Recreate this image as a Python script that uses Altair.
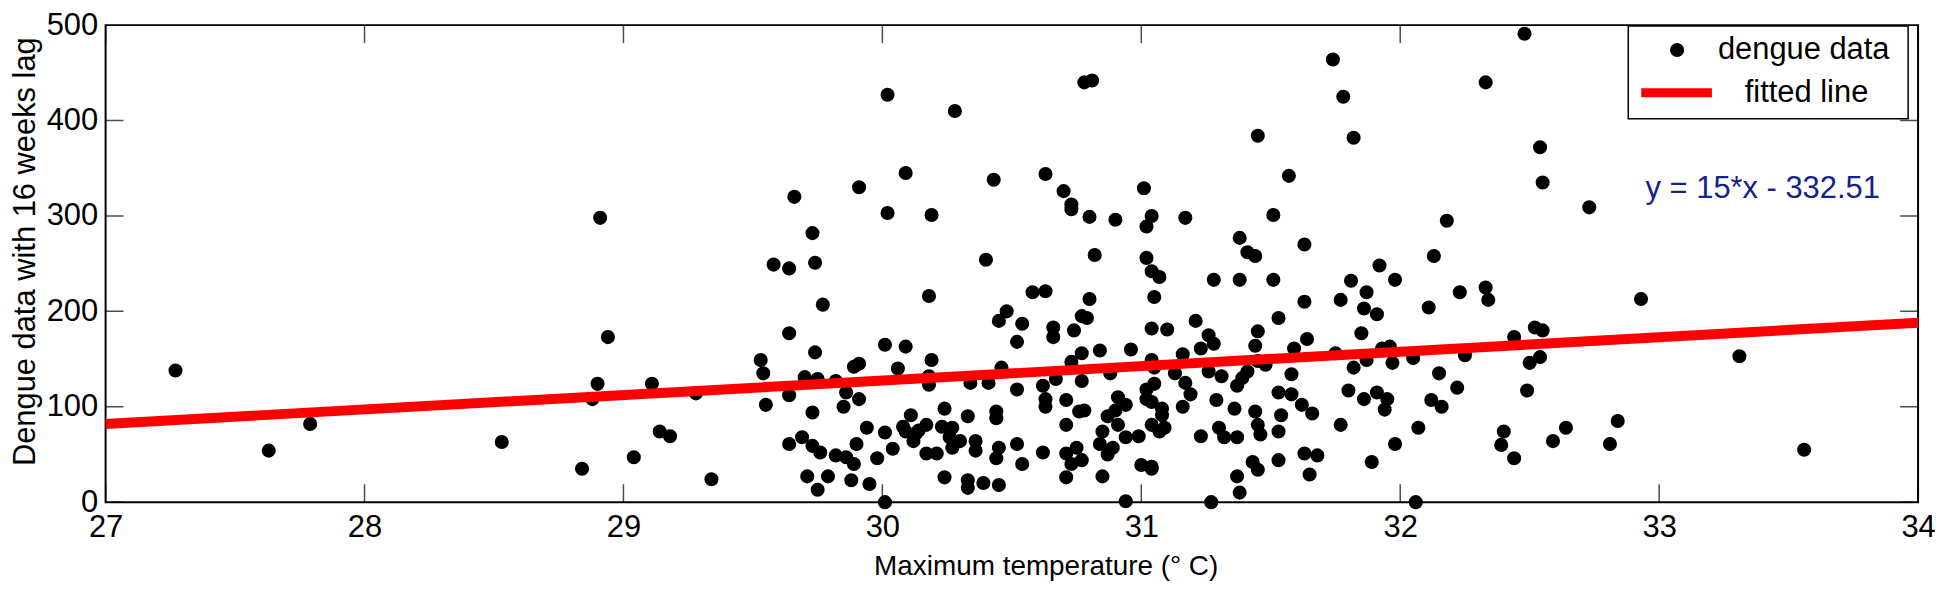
import altair as alt
import pandas as pd

# ---- data ----
temp = [
    27.27, 27.63, 27.79, 28.53, 28.84, 28.91, 28.94, 28.90, 28.88, 29.04, 29.11, 29.14, 29.18, 29.28, 29.34,
    29.53, 30.02, 30.28, 30.09, 29.91, 29.66, 30.02, 30.19, 29.73, 29.58, 29.64, 29.74, 30.18, 29.77, 29.64,
    29.74, 29.54, 30.01, 30.09, 30.19, 29.91, 29.89, 30.06, 30.18, 29.70, 29.75, 29.82, 30.18, 29.64, 29.86,
    29.91, 29.55, 29.85, 29.73, 30.24, 30.11, 29.94, 30.01, 30.09, 30.17, 30.23, 29.64, 29.69, 29.73, 29.76,
    29.82, 29.86, 29.89, 29.90, 30.04, 29.98, 30.12, 30.13, 30.17, 30.21, 30.27, 29.71, 29.75, 29.79, 29.88,
    29.95, 30.01, 30.24, 30.08, 30.14,
    30.78, 30.81, 30.43, 30.63, 30.70, 30.73, 30.73, 30.80, 30.90, 31.01, 31.04, 31.02, 30.40, 30.82, 31.02,
    31.04, 31.07, 30.58, 30.63, 30.80, 31.05, 30.48, 30.45, 30.54, 30.52, 30.66, 30.66, 30.77, 30.79, 30.74,
    31.04, 30.84, 30.96, 30.77, 30.73, 31.04, 30.46, 30.34, 30.41, 30.52, 30.62, 30.67, 30.63, 30.77, 30.88,
    30.91, 31.02, 31.04, 30.71, 30.63, 30.76, 30.78, 30.33, 30.44, 30.44, 30.90, 30.94, 30.87, 31.02, 31.08,
    30.27, 30.30, 30.36, 30.36, 30.45, 30.44, 30.52, 30.54, 30.62, 30.71, 30.71, 30.75, 30.73, 30.77, 30.71,
    30.85, 30.84, 30.89, 30.87, 30.94, 30.99, 30.91, 30.85, 31.00, 31.04, 31.07, 30.33, 30.33, 30.39, 30.45,
    30.94, 30.26,
    31.74, 31.78, 31.45, 31.82, 31.57, 31.17, 31.51, 31.38, 31.41, 31.44, 31.63, 31.28, 31.38, 31.51, 31.81,
    31.87, 31.92, 31.63, 31.77, 31.86, 31.21, 31.10, 31.53, 31.45, 31.26, 31.28, 31.23, 31.44, 31.64, 31.59,
    31.16, 31.85, 31.75, 31.45, 31.05, 31.48, 31.87, 31.26, 31.31, 31.39, 31.41, 31.13, 31.58, 31.82, 31.37,
    31.17, 31.05, 31.19, 31.53, 31.58, 31.80, 31.86, 31.29, 31.16, 31.36, 31.62, 31.66, 31.44, 31.54, 31.08,
    31.09, 31.04, 31.23, 31.30, 31.32, 31.37, 31.45, 31.46, 31.53, 31.77, 31.63, 31.68, 31.53, 31.43, 31.45,
    31.37, 31.65, 31.38, 31.27, 31.04, 31.89,
    32.48, 32.33, 32.54, 32.55, 32.73, 32.18, 32.13, 31.98, 32.23, 32.33, 32.34, 32.11, 31.91, 32.52, 32.55,
    32.44, 31.96, 31.93, 32.05, 32.25, 31.97, 32.54, 32.50, 32.15, 32.22, 32.49, 31.91, 31.95, 32.12, 32.16,
    31.94, 32.07, 32.40, 32.39, 32.44, 32.64, 32.59, 31.98, 32.06,
    32.93, 33.31, 32.84, 32.81, 33.56,
]
cases = [
    138, 54, 82, 63, 35, 298, 173, 124, 108, 47, 124, 74, 69, 114, 24,
    149, 427, 410, 345, 330, 320, 303, 301, 282, 249, 245, 251, 216, 207, 177,
    157, 135, 165, 163, 149, 145, 142, 140, 132, 131, 129, 127, 123, 112, 115,
    108, 102, 100, 94, 98, 91, 78, 73, 74, 81, 79, 61, 68, 59, 52,
    49, 47, 40, 61, 56, 46, 64, 72, 51, 51, 57, 27, 13, 27, 23,
    19, 0, 26, 79, 75,
    440, 442, 338, 344, 326, 312, 307, 299, 296, 329, 300, 289, 254, 259, 256,
    242, 236, 220, 221, 213, 215, 200, 190, 187, 168, 183, 173, 195, 193, 180,
    182, 159, 160, 156, 147, 149, 141, 125, 125, 118, 122, 129, 108, 127, 135,
    110, 118, 105, 107, 100, 95, 96, 90, 95, 88, 96, 102, 90, 108, 98,
    78, 64, 64, 54, 57, 46, 61, 40, 52, 81, 51, 57, 40, 44, 26,
    74, 61, 57, 50, 68, 69, 81, 27, 39, 37, 74, 23, 15, 20, 18,
    1, 68,
    464, 425, 384, 382, 342, 298, 301, 277, 262, 258, 270, 233, 233, 233, 232,
    220, 248, 210, 212, 203, 190, 181, 193, 179, 175, 166, 161, 164, 171, 161,
    155, 177, 156, 148, 141, 144, 149, 137, 132, 130, 137, 135, 134, 141, 122,
    125, 124, 113, 115, 113, 117, 108, 107, 100, 98, 102, 93, 95, 91, 91,
    78, 81, 69, 78, 68, 68, 81, 71, 74, 81, 51, 49, 44, 42, 34,
    27, 29, 10, 0, 35, 42,
    491, 440, 372, 335, 309, 295, 258, 233, 220, 225, 212, 204, 197, 183, 180,
    173, 163, 161, 151, 154, 146, 152, 146, 135, 120, 117, 115, 108, 107, 100,
    97, 78, 74, 60, 46, 78, 64, 61, 0,
    213, 153, 85, 61, 55,
]

fit_x = [27, 34]
fit_y = [82, 188]

x_ticks = [27, 28, 29, 30, 31, 32, 33, 34]
y_ticks = [0, 100, 200, 300, 400, 500]

equation = "y = 15*x - 332.51"
legend_labels = ["dengue data", "fitted line"]

FONT = "Liberation Sans"

pts = pd.DataFrame({"temp": temp, "cases": cases})
fit = pd.DataFrame({"temp": fit_x, "cases": fit_y})

xscale = alt.Scale(domain=[27, 34], nice=False, zero=False)
yscale = alt.Scale(domain=[0, 500], nice=False, zero=False)

xaxis = alt.Axis(values=x_ticks, format="d", domain=False, ticks=False, grid=False,
                 labelFont=FONT, labelFontSize=31, labelColor="black", labelPadding=10,
                 labelFlush=False, labelOverlap=False,
                 title="Maximum temperature (° C)", titleFont=FONT, titleFontSize=28,
                 titleFontWeight="normal", titleColor="black", titleX=944, titleY=65,
                 titleBaseline="middle")
yaxis = alt.Axis(values=y_ticks, format="d", domain=False, ticks=False, grid=False,
                 labelFont=FONT, labelFontSize=31, labelColor="black", labelPadding=8,
                 labelFlush=False, labelOverlap=False,
                 title="Dengue data with 16 weeks lag", titleFont=FONT, titleFontSize=31,
                 titleFontWeight="normal", titleColor="black", titleX=-80, titleY=227,
                 titleBaseline="middle")

X = alt.X("temp:Q", scale=xscale, axis=xaxis)
Y = alt.Y("cases:Q", scale=yscale, axis=yaxis)

points = alt.Chart(pts).mark_circle(size=200, color="black", opacity=1).encode(x=X, y=Y)
line = alt.Chart(fit).mark_line(color="#ff0000", strokeWidth=10).encode(x=X, y=Y)

tick_style = dict(color="black", thickness=1.5, size=36, clip=True)
bottom = alt.Chart(pd.DataFrame({"temp": x_ticks, "cases": [0] * len(x_ticks)})).mark_tick(
    orient="vertical", **tick_style).encode(x=X, y=Y)
top = alt.Chart(pd.DataFrame({"temp": x_ticks, "cases": [500] * len(x_ticks)})).mark_tick(
    orient="vertical", **tick_style).encode(x=X, y=Y)
left = alt.Chart(pd.DataFrame({"temp": [27] * len(y_ticks), "cases": y_ticks})).mark_tick(
    orient="horizontal", **tick_style).encode(x=X, y=Y)
right = alt.Chart(pd.DataFrame({"temp": [34] * len(y_ticks), "cases": y_ticks})).mark_tick(
    orient="horizontal", **tick_style).encode(x=X, y=Y)

eq = alt.Chart(pd.DataFrame({"temp": [33.4], "cases": [328], "label": [equation]})).mark_text(
    font=FONT, fontSize=31, color="#14228c", align="center", baseline="middle").encode(
    x=X, y=Y, text="label:N")

one = pd.DataFrame({"a": [0]})
leg_box = alt.Chart(one).mark_rect(fill="white", stroke="black", strokeWidth=1.5).encode(
    x=alt.value(1529), x2=alt.value(1810), y=alt.value(1), y2=alt.value(94))
leg_pt = alt.Chart(one).mark_circle(size=200, color="black", opacity=1).encode(
    x=alt.value(1578), y=alt.value(25))
leg_line = alt.Chart(one).mark_rule(color="#ff0000", strokeWidth=9).encode(
    x=alt.value(1542), x2=alt.value(1613), y=alt.value(68))
leg_t1 = alt.Chart(one).mark_text(font=FONT, fontSize=31, align="left", baseline="middle",
                                  color="black").encode(
    x=alt.value(1619), y=alt.value(25), text=alt.value(legend_labels[0]))
leg_t2 = alt.Chart(one).mark_text(font=FONT, fontSize=31, align="left", baseline="middle",
                                  color="black").encode(
    x=alt.value(1646), y=alt.value(68), text=alt.value(legend_labels[1]))

chart = alt.layer(points, line, bottom, top, left, right, eq,
                  leg_box, leg_pt, leg_line, leg_t1, leg_t2).properties(
    width=1820, height=479, autosize="none",
    padding={"left": 98, "top": 16, "right": 17, "bottom": 82},
    background="white",
).configure_view(stroke="black", strokeWidth=2)

chart.save("out.html", embed_options={"renderer": "svg", "actions": False})
